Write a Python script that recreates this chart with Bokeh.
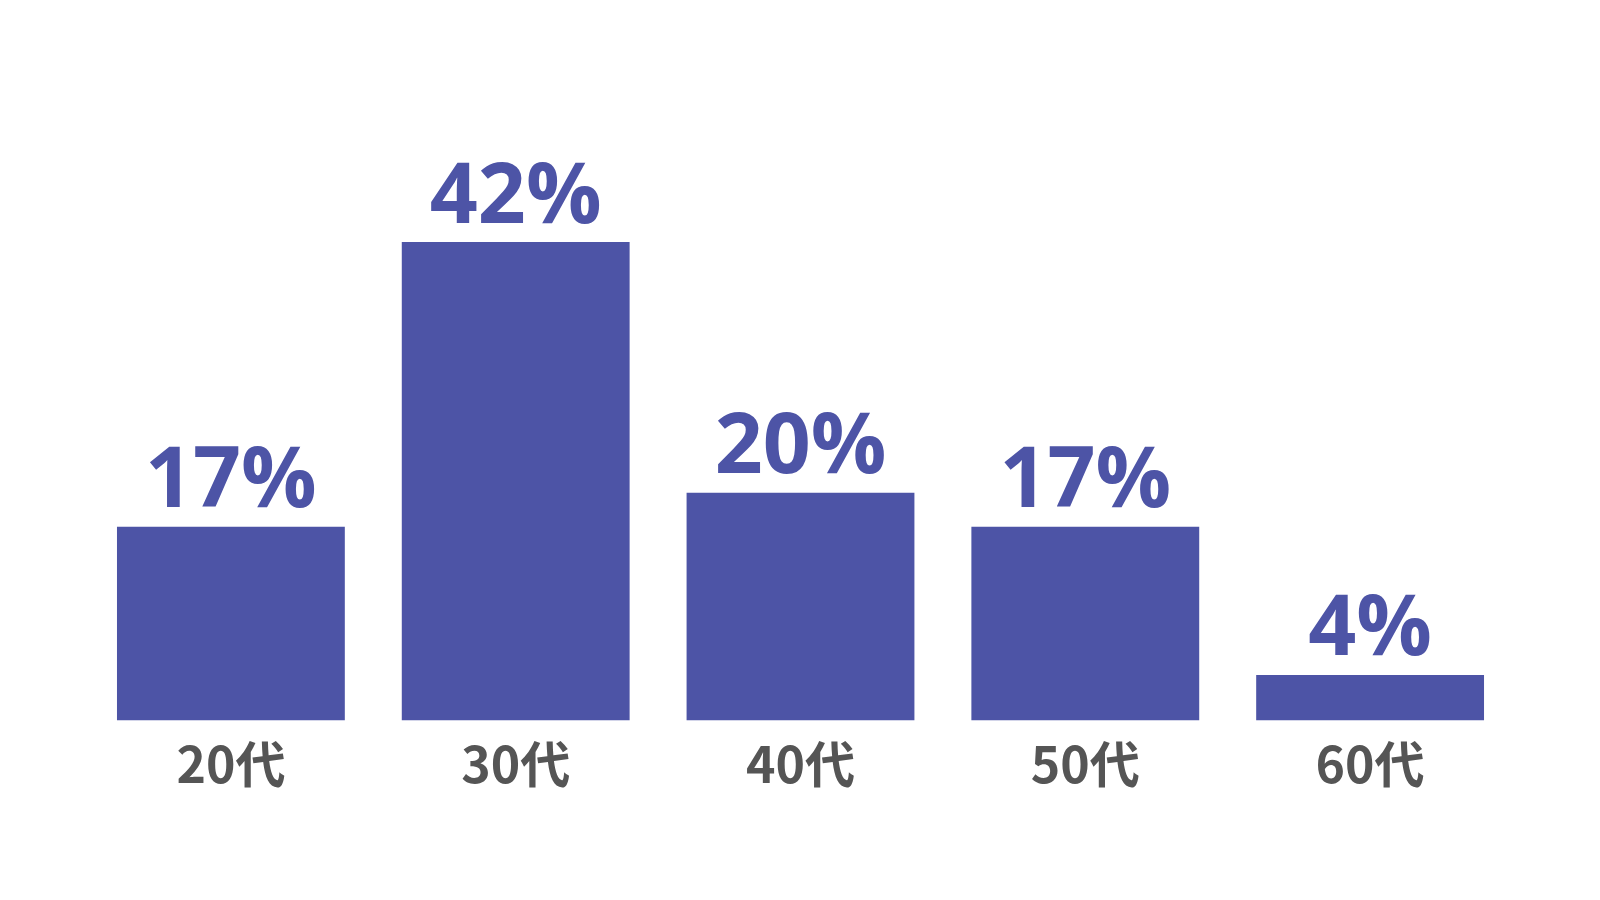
from bokeh.plotting import figure
from bokeh.models import ColumnDataSource, Range1d
from bokeh.core.properties import value
from bokeh.embed import file_html
from bokeh.resources import INLINE

categories = ["20代", "30代", "40代", "50代", "60代"]
values = [17, 42, 20, 17, 4]
labels = ["17%", "42%", "20%", "17%", "4%"]

BAR = "#4d54a6"

src = ColumnDataSource(dict(cat=categories, val=values, lab=labels))

p = figure(x_range=categories, y_range=Range1d(0, 58.9),
           width=1584, height=880, output_backend="svg", toolbar_location=None,
           min_border_left=88, min_border_right=72, min_border_top=49, min_border_bottom=160)
p.outline_line_color = None
p.background_fill_color = "white"
p.border_fill_color = "white"
p.grid.visible = False
p.yaxis.visible = False
p.x_range.range_padding = 0

p.vbar(x="cat", top="val", width=0.8, source=src, fill_color=BAR, line_color=None)
p.text(x="cat", y="val", text="lab", source=src, text_align="center", text_baseline="alphabetic",
       y_offset=-52, text_font=value("Open Sans"), text_font_style="bold",
       text_font_size="84px", text_color=BAR)

ax = p.xaxis[0]
ax.axis_line_color = None
ax.major_tick_line_color = None
ax.minor_tick_line_color = None
ax.major_tick_out = 0
ax.major_tick_in = 0
ax.major_label_standoff = 4
ax.major_label_text_font = "Noto Sans CJK JP"
ax.major_label_text_font_style = "bold"
ax.major_label_text_font_size = "50px"
ax.major_label_text_color = "#555555"

open("out.html", "w").write(file_html(p, INLINE))
